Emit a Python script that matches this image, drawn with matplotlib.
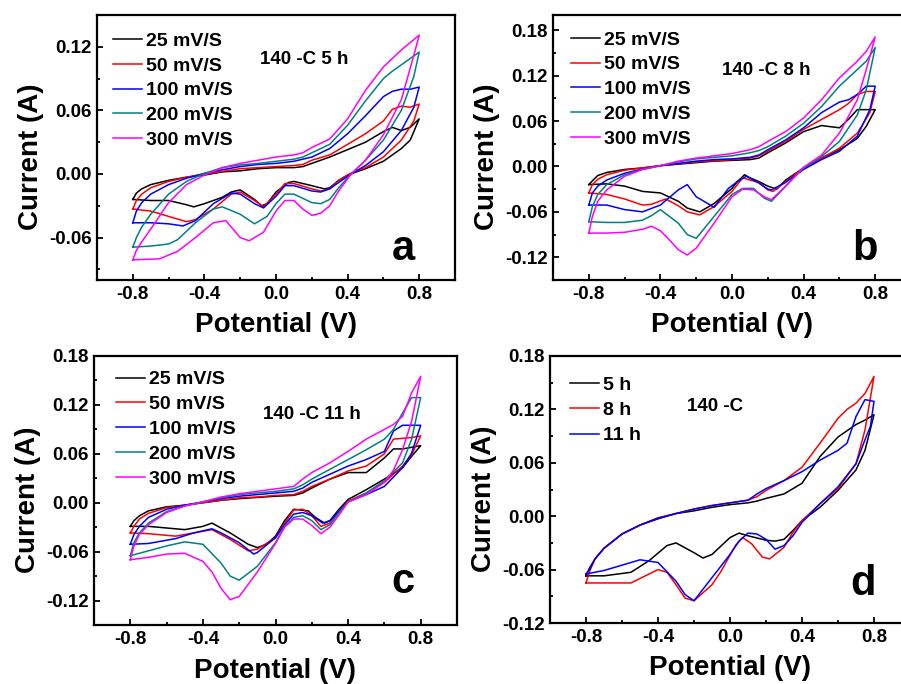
import matplotlib
matplotlib.use("Agg")
import matplotlib.pyplot as plt
from matplotlib.ticker import MultipleLocator, FormatStrFormatter

plt.rcParams.update({"font.family": "Liberation Sans", "font.weight": "bold",
                     "axes.unicode_minus": False})

# anodic sweep potentials (V), shared by every loop
UP_V = [-0.8, -0.78, -0.75, -0.7, -0.6, -0.5, -0.4, -0.3, -0.2, -0.1, 0.0, 0.1,
        0.15, 0.2, 0.3, 0.4, 0.5, 0.6, 0.65, 0.7, 0.75, 0.8]

RATES = ["25 mV/S", "50 mV/S", "100 mV/S", "200 mV/S", "300 mV/S"]
TIMES = ["5 h", "8 h", "11 h"]

# ---- a : 140 C 5 h ----
A25_UP = [-0.024, -0.018, -0.014, -0.010, -0.006, -0.003, -0.001, 0.002, 0.003, 0.005, 0.006, 0.006,
          0.007, 0.010, 0.016, 0.023, 0.030, 0.040, 0.044, 0.041, 0.044, 0.052]
A25_DN_V = [0.75, 0.7, 0.6, 0.5, 0.45, 0.4, 0.35, 0.3, 0.27, 0.2, 0.1, 0.07, 0.0, -0.05, -0.08,
            -0.12, -0.2, -0.25, -0.3, -0.4, -0.46, -0.5, -0.6, -0.7, -0.8]
A25_DN = [0.032, 0.024, 0.012, 0.005, 0.002, -0.001, -0.006, -0.013, -0.014, -0.011, -0.007, -0.008,
          -0.017, -0.028, -0.030, -0.024, -0.015, -0.017, -0.022, -0.028, -0.031, -0.029, -0.025, -0.025, -0.024]
A50_UP = [-0.033, -0.025, -0.019, -0.013, -0.007, -0.003, 0.000, 0.0025, 0.005, 0.006, 0.007, 0.008,
          0.009, 0.013, 0.018, 0.028, 0.038, 0.050, 0.061, 0.064, 0.063, 0.066]
A50_DN_V = [0.77, 0.7, 0.6, 0.5, 0.42, 0.35, 0.3, 0.25, 0.2, 0.1, 0.05, 0.0, -0.07, -0.12, -0.2,
            -0.25, -0.35, -0.45, -0.5, -0.6, -0.7, -0.8]
A50_DN = [0.050, 0.032, 0.016, 0.006, 0.001, -0.006, -0.014, -0.016, -0.014, -0.009, -0.009, -0.019,
          -0.031, -0.025, -0.017, -0.019, -0.033, -0.043, -0.045, -0.040, -0.035, -0.033]
A100_UP = [-0.046, -0.035, -0.027, -0.019, -0.010, -0.004, 0.0006, 0.004, 0.007, 0.009, 0.010, 0.012,
           0.014, 0.016, 0.024, 0.038, 0.055, 0.073, 0.078, 0.080, 0.080, 0.082]
A100_DN_V = [0.77, 0.7, 0.6, 0.5, 0.42, 0.35, 0.3, 0.25, 0.2, 0.1, 0.05, 0.0, -0.07, -0.12, -0.2,
             -0.25, -0.35, -0.45, -0.52, -0.6, -0.7, -0.8]
A100_DN = [0.063, 0.041, 0.021, 0.008, 0.0, -0.008, -0.014, -0.017, -0.016, -0.011, -0.011, -0.021,
           -0.032, -0.028, -0.019, -0.018, -0.028, -0.044, -0.049, -0.047, -0.046, -0.046]
A200_UP = [-0.069, -0.060, -0.050, -0.038, -0.019, -0.007, 0.0006, 0.006, 0.0085, 0.010, 0.012, 0.014,
           0.016, 0.020, 0.028, 0.046, 0.069, 0.090, 0.097, 0.103, 0.109, 0.115]
A200_DN_V = [0.77, 0.7, 0.6, 0.5, 0.42, 0.35, 0.3, 0.25, 0.2, 0.1, 0.05, 0.0, -0.05, -0.12, -0.2,
             -0.3, -0.35, -0.45, -0.55, -0.6, -0.7, -0.8]
A200_DN = [0.092, 0.060, 0.032, 0.013, 0.0, -0.013, -0.024, -0.028, -0.027, -0.019, -0.019, -0.028,
           -0.040, -0.047, -0.038, -0.031, -0.033, -0.046, -0.062, -0.066, -0.068, -0.069]
A300_UP = [-0.081, -0.072, -0.064, -0.052, -0.027, -0.010, -0.001, 0.006, 0.010, 0.013, 0.016, 0.018,
           0.020, 0.025, 0.033, 0.052, 0.079, 0.101, 0.109, 0.117, 0.124, 0.131]
A300_DN_V = [0.77, 0.7, 0.6, 0.5, 0.42, 0.35, 0.3, 0.25, 0.2, 0.15, 0.1, 0.05, 0.0, -0.07, -0.15,
             -0.2, -0.28, -0.35, -0.45, -0.55, -0.65, -0.8]
A300_DN = [0.112, 0.070, 0.037, 0.013, 0.0, -0.016, -0.030, -0.037, -0.039, -0.033, -0.025, -0.025,
           -0.035, -0.055, -0.063, -0.060, -0.044, -0.046, -0.060, -0.073, -0.080, -0.081]

# ---- b : 140 C 8 h ----
B25_UP = [-0.024, -0.019, -0.012, -0.008, -0.004, -0.002, 0.001, 0.003, 0.005, 0.007, 0.008, 0.009,
          0.011, 0.018, 0.031, 0.046, 0.054, 0.051, 0.062, 0.075, 0.075, 0.075]
B25_DN_V = [0.75, 0.7, 0.6, 0.5, 0.4, 0.3, 0.25, 0.2, 0.15, 0.1, 0.07, 0.03, 0.0, -0.1, -0.18,
            -0.25, -0.3, -0.4, -0.5, -0.6, -0.7, -0.8]
B25_DN = [0.053, 0.037, 0.022, 0.011, -0.002, -0.018, -0.030, -0.026, -0.020, -0.015, -0.011, -0.020,
          -0.029, -0.049, -0.060, -0.055, -0.046, -0.035, -0.033, -0.026, -0.023, -0.024]
B50_UP = [-0.035, -0.024, -0.017, -0.011, -0.005, -0.002, 0.001, 0.0035, 0.006, 0.0075, 0.009, 0.011,
          0.014, 0.020, 0.033, 0.049, 0.062, 0.075, 0.083, 0.095, 0.099, 0.099]
B50_DN_V = [0.77, 0.7, 0.6, 0.5, 0.4, 0.3, 0.23, 0.2, 0.15, 0.1, 0.06, 0.0, -0.1, -0.18, -0.25,
            -0.3, -0.37, -0.45, -0.5, -0.6, -0.7, -0.8]
B50_DN = [0.071, 0.044, 0.024, 0.011, -0.002, -0.020, -0.033, -0.031, -0.021, -0.018, -0.015, -0.033,
          -0.053, -0.064, -0.060, -0.052, -0.043, -0.050, -0.051, -0.043, -0.037, -0.035]
B100_UP = [-0.051, -0.035, -0.026, -0.018, -0.009, -0.0035, 0.001, 0.004, 0.007, 0.009, 0.010, 0.012,
           0.015, 0.022, 0.035, 0.051, 0.071, 0.085, 0.088, 0.095, 0.106, 0.106]
B100_DN_V = [0.77, 0.7, 0.6, 0.5, 0.4, 0.3, 0.22, 0.2, 0.15, 0.08, 0.03, -0.02, -0.1, -0.2, -0.25,
             -0.3, -0.4, -0.5, -0.6, -0.7, -0.8]
B100_DN = [0.075, 0.040, 0.020, 0.009, -0.004, -0.021, -0.031, -0.030, -0.022, -0.013, -0.020, -0.029,
           -0.054, -0.040, -0.024, -0.031, -0.051, -0.060, -0.057, -0.051, -0.051]
B200_UP = [-0.073, -0.053, -0.037, -0.024, -0.011, -0.004, 0.001, 0.006, 0.010, 0.012, 0.014, 0.018,
           0.021, 0.026, 0.040, 0.057, 0.079, 0.106, 0.117, 0.128, 0.139, 0.157]
B200_DN_V = [0.75, 0.7, 0.6, 0.5, 0.4, 0.3, 0.22, 0.18, 0.12, 0.06, 0.0, -0.1, -0.2, -0.25, -0.3,
             -0.4, -0.45, -0.5, -0.6, -0.7, -0.8]
B200_DN = [0.101, 0.068, 0.033, 0.013, -0.002, -0.026, -0.046, -0.042, -0.029, -0.029, -0.037, -0.066,
           -0.095, -0.090, -0.075, -0.057, -0.065, -0.071, -0.074, -0.074, -0.073]
B300_UP = [-0.088, -0.066, -0.046, -0.031, -0.013, -0.004, 0.001, 0.007, 0.011, 0.014, 0.017, 0.022,
           0.026, 0.033, 0.046, 0.064, 0.088, 0.117, 0.128, 0.139, 0.152, 0.171]
B300_DN_V = [0.75, 0.7, 0.6, 0.5, 0.4, 0.3, 0.22, 0.18, 0.12, 0.06, 0.0, -0.1, -0.2, -0.25, -0.3,
             -0.35, -0.4, -0.45, -0.5, -0.6, -0.7, -0.8]
B300_DN = [0.128, 0.088, 0.044, 0.015, -0.001, -0.026, -0.044, -0.040, -0.031, -0.030, -0.040, -0.075,
           -0.108, -0.117, -0.110, -0.097, -0.085, -0.079, -0.083, -0.087, -0.088, -0.088]

# ---- c : 140 C 11 h ----
C25_UP = [-0.029, -0.022, -0.016, -0.010, -0.005, -0.003, 0.0, 0.003, 0.005, 0.0065, 0.008, 0.009,
          0.012, 0.018, 0.029, 0.037, 0.037, 0.055, 0.066, 0.066, 0.068, 0.070]
C25_DN_V = [0.75, 0.7, 0.6, 0.5, 0.4, 0.35, 0.3, 0.27, 0.22, 0.18, 0.1, 0.05, 0.0, -0.05, -0.1,
            -0.15, -0.25, -0.35, -0.4, -0.5, -0.6, -0.7, -0.8]
C25_DN = [0.057, 0.043, 0.029, 0.016, 0.004, -0.008, -0.022, -0.025, -0.018, -0.010, -0.008, -0.022,
          -0.041, -0.051, -0.055, -0.051, -0.037, -0.025, -0.029, -0.033, -0.031, -0.029, -0.029]
C50_UP = [-0.037, -0.029, -0.020, -0.013, -0.006, -0.003, 0.0, 0.003, 0.006, 0.007, 0.009, 0.010,
          0.014, 0.020, 0.029, 0.039, 0.045, 0.060, 0.078, 0.079, 0.080, 0.082]
C50_DN_V = [0.75, 0.7, 0.6, 0.5, 0.4, 0.35, 0.3, 0.25, 0.2, 0.15, 0.1, 0.05, 0.0, -0.1, -0.15,
            -0.25, -0.35, -0.45, -0.55, -0.7, -0.8]
C50_DN = [0.059, 0.045, 0.025, 0.012, 0.002, -0.010, -0.025, -0.029, -0.016, -0.008, -0.009, -0.025,
          -0.043, -0.057, -0.059, -0.045, -0.033, -0.037, -0.041, -0.038, -0.037]
C100_UP = [-0.051, -0.039, -0.029, -0.018, -0.008, -0.003, 0.001, 0.005, 0.008, 0.010, 0.012, 0.014,
           0.018, 0.025, 0.035, 0.045, 0.053, 0.063, 0.088, 0.095, 0.095, 0.095]
C100_DN_V = [0.75, 0.7, 0.6, 0.5, 0.4, 0.35, 0.3, 0.26, 0.2, 0.15, 0.1, 0.05, 0.0, -0.1, -0.12,
             -0.2, -0.3, -0.35, -0.45, -0.55, -0.7, -0.8]
C100_DN = [0.061, 0.043, 0.020, 0.010, 0.001, -0.010, -0.022, -0.025, -0.016, -0.012, -0.014, -0.027,
           -0.043, -0.061, -0.063, -0.049, -0.037, -0.032, -0.037, -0.044, -0.050, -0.051]
C200_UP = [-0.065, -0.049, -0.037, -0.025, -0.011, -0.004, 0.001, 0.006, 0.010, 0.012, 0.014, 0.017,
           0.022, 0.029, 0.041, 0.053, 0.065, 0.078, 0.090, 0.110, 0.129, 0.129]
C200_DN_V = [0.75, 0.7, 0.6, 0.5, 0.4, 0.35, 0.3, 0.25, 0.2, 0.15, 0.1, 0.05, 0.0, -0.1, -0.2,
             -0.25, -0.3, -0.4, -0.5, -0.6, -0.7, -0.8]
C200_DN = [0.078, 0.049, 0.027, 0.012, 0.001, -0.012, -0.027, -0.033, -0.022, -0.016, -0.018, -0.029,
           -0.049, -0.078, -0.095, -0.090, -0.074, -0.051, -0.048, -0.053, -0.059, -0.065]
C300_UP = [-0.070, -0.053, -0.039, -0.027, -0.012, -0.004, 0.001, 0.007, 0.011, 0.014, 0.017, 0.020,
           0.029, 0.037, 0.049, 0.063, 0.078, 0.090, 0.096, 0.106, 0.135, 0.155]
C300_DN_V = [0.75, 0.7, 0.65, 0.6, 0.5, 0.4, 0.35, 0.3, 0.25, 0.2, 0.15, 0.1, 0.05, 0.0, -0.1,
             -0.2, -0.25, -0.3, -0.35, -0.4, -0.5, -0.6, -0.7, -0.8]
C300_DN = [0.100, 0.065, 0.040, 0.025, 0.010, 0.001, -0.015, -0.030, -0.038, -0.028, -0.020, -0.020,
           -0.030, -0.050, -0.085, -0.115, -0.119, -0.105, -0.085, -0.072, -0.062, -0.063, -0.067, -0.070]

# ---- d : 140 C, 5 / 8 / 11 h ----
D5_UP = [-0.067, -0.058, -0.048, -0.036, -0.020, -0.010, -0.003, 0.003, 0.006, 0.010, 0.013, 0.015,
         0.017, 0.020, 0.025, 0.037, 0.067, 0.089, 0.096, 0.103, 0.108, 0.114]
D5_DN_V = [0.75, 0.7, 0.6, 0.5, 0.4, 0.35, 0.3, 0.25, 0.2, 0.1, 0.05, 0.0, -0.1, -0.15, -0.2,
           -0.3, -0.35, -0.45, -0.55, -0.7, -0.8]
D5_DN = [0.074, 0.052, 0.029, 0.010, -0.005, -0.016, -0.026, -0.028, -0.027, -0.022, -0.019, -0.024,
         -0.043, -0.047, -0.041, -0.030, -0.033, -0.050, -0.063, -0.067, -0.067]
D8_UP = [-0.075, -0.062, -0.048, -0.036, -0.020, -0.010, -0.002, 0.003, 0.008, 0.012, 0.015, 0.018,
         0.022, 0.029, 0.040, 0.055, 0.082, 0.110, 0.120, 0.127, 0.138, 0.157]
D8_DN_V = [0.75, 0.7, 0.6, 0.5, 0.4, 0.35, 0.3, 0.22, 0.18, 0.12, 0.07, 0.03, -0.05, -0.1, -0.2,
           -0.25, -0.3, -0.35, -0.4, -0.45, -0.55, -0.7, -0.8]
D8_DN = [0.097, 0.059, 0.031, 0.014, -0.005, -0.018, -0.035, -0.048, -0.046, -0.031, -0.024, -0.033,
         -0.062, -0.077, -0.095, -0.092, -0.077, -0.063, -0.060, -0.065, -0.075, -0.075, -0.075]
D11_UP = [-0.065, -0.060, -0.048, -0.036, -0.020, -0.010, -0.002, 0.003, 0.008, 0.012, 0.015, 0.018,
          0.025, 0.031, 0.040, 0.050, 0.063, 0.074, 0.082, 0.112, 0.131, 0.129]
D11_DN_V = [0.78, 0.75, 0.7, 0.6, 0.5, 0.4, 0.35, 0.3, 0.25, 0.2, 0.15, 0.1, 0.05, 0.0, -0.1,
            -0.2, -0.25, -0.3, -0.4, -0.5, -0.6, -0.7, -0.8]
D11_DN = [0.101, 0.086, 0.059, 0.033, 0.014, -0.007, -0.022, -0.033, -0.037, -0.026, -0.020, -0.019,
          -0.028, -0.043, -0.069, -0.095, -0.088, -0.073, -0.052, -0.049, -0.055, -0.061, -0.065]

COLORS = ["#000000", "#ff0000", "#0000ff", "#008080", "#ff00ff"]
LW = 1.1

fig = plt.figure(figsize=(9.01, 6.84), dpi=100)
W, H = 901, 684


def add_ax(left, top, right, bottom):
    return fig.add_axes([left / W, 1 - bottom / H, (right - left) / W, (bottom - top) / H])


def draw(ax, curves, labels, ylim, title, tpos, letter, lpos, legpos, labsp):
    lines = []
    for (up, dv, di), c in zip(curves, COLORS):
        ln, = ax.plot(UP_V + dv, up + di, color=c, lw=LW)
        lines.append(ln)
    ax.set_xlim(-1.0, 1.0)
    ax.set_ylim(*ylim)
    ax.xaxis.set_major_locator(MultipleLocator(0.4))
    ax.xaxis.set_minor_locator(MultipleLocator(0.2))
    ax.yaxis.set_major_locator(MultipleLocator(0.06))
    ax.yaxis.set_minor_locator(MultipleLocator(0.03))
    ax.xaxis.set_major_formatter(FormatStrFormatter("%.1f"))
    ax.yaxis.set_major_formatter(FormatStrFormatter("%.2f"))
    ax.tick_params(which="both", direction="in", top=False, right=False, width=1.3,
                   labelsize=13.5, pad=4)
    ax.tick_params(which="major", length=4)
    ax.tick_params(which="minor", length=2.5)
    for s in ax.spines.values():
        s.set_linewidth(1.6)
    ax.set_xlabel("Potential (V)", fontsize=20, fontweight="bold", va="center")
    ax.set_ylabel("Current (A)", fontsize=20, fontweight="bold", va="center")
    ax.xaxis.set_label_coords(0.5, -0.17)
    ax.yaxis.set_label_coords(-0.183, 0.465)
    ax.legend(lines, labels, loc="upper left", bbox_to_anchor=legpos, frameon=False,
              prop={"size": 14, "weight": "bold"}, handlelength=1.5, handletextpad=0.2,
              labelspacing=labsp, borderpad=0, borderaxespad=0)
    ax.text(tpos[0], tpos[1], title, transform=ax.transAxes, fontsize=13.5,
            fontweight="bold", ha="left", va="center")
    ax.text(lpos[0], lpos[1], letter, transform=ax.transAxes, fontsize=30,
            fontweight="bold", ha="center", va="baseline")


ax_a = add_ax(97, 15, 455, 280)
draw(ax_a, [(A25_UP, A25_DN_V, A25_DN), (A50_UP, A50_DN_V, A50_DN), (A100_UP, A100_DN_V, A100_DN),
            (A200_UP, A200_DN_V, A200_DN), (A300_UP, A300_DN_V, A300_DN)],
     RATES, (-0.10, 0.15), "140 -C 5 h", (0.455, 0.833), "a", (0.855, 0.075), (0.045, 0.935), 0.37)

ax_b = add_ax(553, 15, 911, 280)
draw(ax_b, [(B25_UP, B25_DN_V, B25_DN), (B50_UP, B50_DN_V, B50_DN), (B100_UP, B100_DN_V, B100_DN),
            (B200_UP, B200_DN_V, B200_DN), (B300_UP, B300_DN_V, B300_DN)],
     RATES, (-0.15, 0.20), "140 -C 8 h", (0.471, 0.789), "b", (0.872, 0.075), (0.05, 0.94), 0.37)

ax_c = add_ax(94, 356, 457, 625)
draw(ax_c, [(C25_UP, C25_DN_V, C25_DN), (C50_UP, C50_DN_V, C50_DN), (C100_UP, C100_DN_V, C100_DN),
            (C200_UP, C200_DN_V, C200_DN), (C300_UP, C300_DN_V, C300_DN)],
     RATES, (-0.15, 0.18), "140 -C 11 h", (0.466, 0.781), "c", (0.852, 0.119), (0.06, 0.945), 0.37)

ax_d = add_ax(550, 356, 910, 623)
draw(ax_d, [(D5_UP, D5_DN_V, D5_DN), (D8_UP, D8_DN_V, D8_DN), (D11_UP, D11_DN_V, D11_DN)],
     TIMES, (-0.12, 0.18), "140 -C", (0.381, 0.809), "d", (0.869, 0.105), (0.055, 0.925), 0.4)

fig.savefig("out.png", dpi=100)
